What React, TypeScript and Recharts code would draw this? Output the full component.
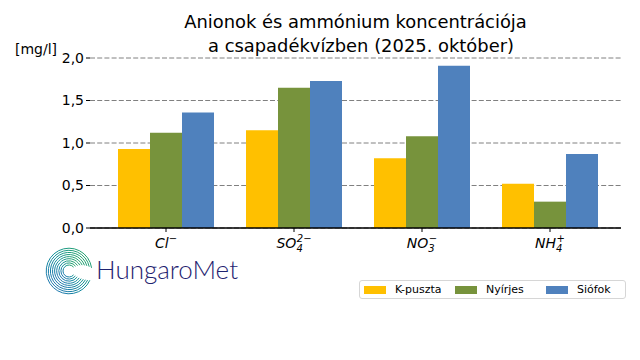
import React from "react";
import {
  BarChart,
  Bar,
  CartesianGrid,
  XAxis,
  YAxis,
  Legend,
} from "recharts";

const categories = ["Cl", "SO4", "NO3", "NH4"];
const kpuszta = [0.93, 1.15, 0.82, 0.52];
const nyirjes = [1.12, 1.65, 1.08, 0.31];
const siofok = [1.36, 1.73, 1.91, 0.87];
const yTicks = [0, 0.5, 1, 1.5, 2];

const series = [
  { key: "kpuszta", name: "K-puszta", color: "#FFC000" },
  { key: "nyirjes", name: "Nyírjes", color: "#77933C" },
  { key: "siofok", name: "Siófok", color: "#4F81BD" },
];

const data = categories.map((c, i) => ({
  name: c,
  kpuszta: kpuszta[i],
  nyirjes: nyirjes[i],
  siofok: siofok[i],
}));

const FONT = "'DejaVu Sans', sans-serif";

// ion labels like matplotlib mathtext: base, subscript, superscript
const ionParts: Record<string, [string, string, string]> = {
  Cl: ["Cl", "", "−"],
  SO4: ["SO", "4", "2−"],
  NO3: ["NO", "3", "−"],
  NH4: ["NH", "4", "+"],
};

const IonTick = ({ x, y, payload }: any) => {
  const [base, sub, sup] = ionParts[payload.value];
  return (
    <text
      x={x}
      y={y + 14}
      textAnchor="middle"
      fontSize={14}
      fontStyle="italic"
      fill="#000"
      fontFamily={FONT}
    >
      <tspan>{base}</tspan>
      {sub && (
        <tspan fontSize={10} dy={4}>
          {sub}
        </tspan>
      )}
      <tspan fontSize={10} dx={sub ? -6 : 0} dy={sub ? -10 : -6}>
        {sup}
      </tspan>
    </text>
  );
};

const LegendBox = () => (
  <div
    style={{
      display: "flex",
      alignItems: "center",
      border: "1px solid #d6d6d6",
      borderRadius: 3,
      height: 19,
      width: 267,
      boxSizing: "border-box",
      fontFamily: FONT,
      fontSize: 11,
      color: "#000",
      background: "#fff",
    }}
  >
    {series.map((s, i) => (
      <div
        key={s.key}
        style={{
          display: "flex",
          alignItems: "center",
          marginLeft: i === 0 ? 4 : 0,
          width: i === 2 ? 80 : 92,
        }}
      >
        <span
          style={{
            display: "inline-block",
            width: 22,
            height: 8,
            background: s.color,
            marginRight: 9,
          }}
        />
        {s.name}
      </div>
    ))}
  </div>
);

const arcPath = (cx: number, cy: number, r: number, a1: number, a2: number) => {
  const rad = (d: number) => (d * Math.PI) / 180;
  const x1 = cx + r * Math.cos(rad(a1));
  const y1 = cy - r * Math.sin(rad(a1));
  const x2 = cx + r * Math.cos(rad(a2));
  const y2 = cy - r * Math.sin(rad(a2));
  const large = a2 - a1 > 180 ? 1 : 0;
  return `M${x1},${y1} A${r},${r} 0 ${large} 0 ${x2},${y2}`;
};

const Logo = () => {
  const rings = [0, 1, 2, 3, 4, 5, 6, 7, 8];
  return (
    <svg
      width={220}
      height={60}
      style={{ position: "absolute", left: 40, top: 242 }}
    >
      <defs>
        <linearGradient id="hm" x1="0" y1="1" x2="1" y2="0">
          <stop offset="0" stopColor="#1f6db5" />
          <stop offset="0.5" stopColor="#128f9a" />
          <stop offset="1" stopColor="#2aa860" />
        </linearGradient>
      </defs>
      {rings.map((i) => (
        <path
          key={i}
          d={arcPath(29, 29, 6 + i * 2.1, 40 - i * 4, 320 + i * 2)}
          fill="none"
          stroke="url(#hm)"
          strokeWidth={1}
        />
      ))}
      <text
        x={56}
        y={37}
        fontFamily="Lato, 'Open Sans', sans-serif"
        fontSize={26}
        fill="#1f2370"
        fontWeight={300}
      >
        HungaroMet
      </text>
    </svg>
  );
};

export default function App() {
  return (
    <div
      style={{
        position: "relative",
        width: 640,
        height: 360,
        marginLeft: -8,
        marginTop: -8,
        background: "#fff",
        fontFamily: FONT,
      }}
    >
      <div
        style={{
          position: "absolute",
          left: 0,
          top: 10,
          width: 711,
          textAlign: "center",
          fontSize: 17.9,
          lineHeight: "24px",
          color: "#000",
        }}
      >
        Anionok és ammónium koncentrációja
        <br />
        <span style={{ paddingLeft: 11 }}>a csapadékvízben (2025. október)</span>
      </div>
      <div
        style={{
          position: "absolute",
          left: 15,
          top: 41,
          fontSize: 14,
          color: "#000",
        }}
      >
        [mg/l]
      </div>
      <Logo />
      <BarChart
        width={640}
        height={360}
        data={data}
        margin={{ top: 58, left: 30, right: 19, bottom: 102 }}
        barGap={0}
        barSize={32}
        style={{ position: "absolute", left: 0, top: 0 }}
      >
        <CartesianGrid
          vertical={false}
          stroke="#808080"
          strokeDasharray="5 2.2"
        />
        <YAxis
          width={60}
          domain={[0, 2]}
          ticks={yTicks}
          tickFormatter={(v: number) => v.toFixed(1).replace(".", ",")}
          axisLine={false}
          tickLine={{ stroke: "#000" }}
          tickSize={4}
          tickMargin={2}
          tick={{ fontSize: 14, fill: "#000" }}
        />
        <XAxis
          dataKey="name"
          height={30}
          padding={{ left: 12, right: 7 }}
          axisLine={{ stroke: "#000", strokeWidth: 1.4 }}
          tickLine={{ stroke: "#000" }}
          tickSize={4}
          tick={<IonTick />}
          interval={0}
        />
        <Legend
          content={<LegendBox />}
          layout="horizontal"
          verticalAlign="middle"
          wrapperStyle={{
            position: "absolute",
            left: 359,
            top: 280,
            width: 267,
          }}
        />
        {series.map((s) => (
          <Bar
            key={s.key}
            dataKey={s.key}
            name={s.name}
            fill={s.color}
            isAnimationActive={false}
          />
        ))}
      </BarChart>
    </div>
  );
}
